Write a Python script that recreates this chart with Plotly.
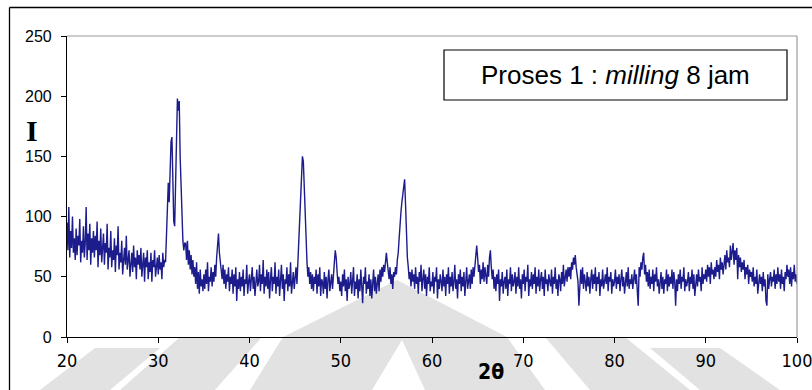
import plotly.graph_objects as go

# XRD pattern: 2-theta from 20 to 100 deg, step 0.1 deg
theta_start = 20.0
theta_step = 0.1

intensity_20_30 = [
    95, 72, 108, 66, 88, 74, 100, 70, 82, 64,
    90, 68, 84, 76, 98, 62, 80, 70, 92, 66,
    78, 108, 64, 86, 72, 94, 60, 82, 70, 88,
    66, 84, 72, 96, 58, 80, 68, 90, 62, 76,
    86, 60, 78, 70, 94, 56, 74, 66, 88, 58,
    72, 64, 82, 54, 76, 68, 92, 56, 70, 62,
    80, 52, 68, 74, 60, 84, 56, 66, 72, 50,
    64, 70, 54, 76, 58, 66, 48, 72, 60, 68,
    56, 74, 50, 62, 70, 46, 66, 58, 72, 48,
    62, 54, 70, 46, 64, 58, 72, 50, 60, 66,
]
intensity_30_40 = [
    52, 68, 56, 62, 48, 70, 58, 64, 62, 82,
    98, 128, 112, 146, 162, 166, 130, 96, 92, 140,
    170, 198, 188, 196, 150, 124, 92, 80, 72, 78,
    78, 64, 80, 60, 72, 56, 68, 52, 64, 50,
    58, 44, 62, 40, 54, 36, 56, 42, 48, 38,
    52, 40, 56, 44, 62, 38, 50, 46, 58, 42,
    54, 46, 60, 50, 66, 74, 86, 70, 62, 56,
    48, 60, 44, 56, 40, 52, 46, 58, 38, 50,
    44, 56, 36, 52, 42, 58, 30, 48, 40, 54,
    38, 50, 42, 56, 34, 48, 44, 60, 36, 46,
]
intensity_40_50 = [
    52, 38, 46, 58, 40, 50, 34, 44, 56, 42,
    46, 60, 38, 52, 44, 64, 36, 50, 42, 56,
    40, 54, 32, 48, 58, 38, 50, 44, 62, 36,
    50, 42, 56, 34, 46, 60, 40, 52, 30, 48,
    44, 58, 38, 52, 42, 62, 36, 48, 54, 40,
    48, 58, 44, 62, 72, 96, 122, 140, 150, 146,
    124, 96, 72, 62, 50, 58, 44, 54, 40, 52,
    38, 50, 44, 56, 36, 52, 42, 58, 34, 48,
    46, 36, 54, 40, 50, 32, 48, 56, 38, 44,
    52, 40, 58, 62, 72, 66, 54, 44, 50, 38,
]
intensity_50_60 = [
    46, 34, 52, 42, 56, 38, 48, 30, 50, 40,
    44, 54, 36, 48, 58, 34, 46, 40, 52, 32,
    48, 38, 56, 42, 28, 50, 44, 58, 36, 46,
    40, 52, 34, 48, 32, 44, 56, 38, 50, 36,
    44, 52, 38, 56, 46, 58, 50, 60, 54, 64,
    70, 62, 56, 48, 58, 44, 52, 40, 54, 50,
    58, 52, 64, 70, 82, 96, 104, 112, 118, 126,
    131, 110, 82, 66, 58, 48, 54, 42, 56, 46,
    52, 40, 58, 44, 50, 36, 54, 46, 60, 38,
    48, 56, 40, 52, 34, 50, 44, 58, 38, 46,
]
intensity_60_70 = [
    42, 54, 36, 50, 46, 58, 32, 48, 40, 52,
    46, 38, 56, 42, 50, 34, 52, 44, 58, 36,
    50, 42, 54, 38, 46, 60, 40, 48, 32, 52,
    44, 56, 38, 50, 42, 54, 34, 48, 58, 40,
    46, 52, 40, 56, 44, 58, 50, 62, 70, 76,
    66, 54, 60, 44, 56, 48, 62, 46, 58, 52,
    44, 60, 50, 66, 72, 58, 48, 56, 40, 50,
    38, 52, 44, 56, 30, 48, 42, 54, 36, 46,
    50, 40, 56, 34, 48, 44, 58, 38, 52, 42,
    46, 54, 36, 50, 42, 58, 40, 48, 32, 52,
]
intensity_70_80 = [
    44, 56, 38, 50, 46, 60, 34, 48, 42, 54,
    40, 52, 44, 58, 36, 50, 42, 56, 38, 48,
    54, 40, 50, 34, 56, 44, 48, 38, 52, 46,
    42, 56, 36, 50, 44, 58, 40, 48, 34, 52,
    48, 38, 54, 44, 60, 42, 50, 56, 46, 58,
    50, 58, 48, 62, 56, 66, 60, 68, 58, 52,
    46, 26, 50, 56, 44, 58, 40, 52, 46, 38,
    54, 42, 50, 36, 48, 56, 40, 52, 44, 58,
    38, 50, 44, 54, 34, 48, 42, 56, 40, 46,
    52, 44, 58, 38, 50, 46, 54, 36, 48, 42,
]
intensity_80_90 = [
    46, 56, 40, 50, 44, 52, 38, 48, 56, 42,
    50, 36, 46, 54, 42, 58, 40, 48, 44, 52,
    40, 48, 56, 44, 52, 38, 26, 58, 50, 62,
    56, 66, 70, 52, 60, 46, 54, 42, 56, 40,
    50, 44, 56, 38, 52, 46, 58, 42, 48, 36,
    46, 54, 40, 50, 36, 48, 44, 56, 38, 52,
    42, 50, 44, 56, 40, 54, 46, 26, 48, 38,
    52, 44, 56, 40, 50, 46, 58, 38, 48, 42,
    46, 54, 38, 50, 44, 56, 40, 52, 34, 48,
    52, 42, 56, 46, 50, 38, 58, 44, 52, 48,
]
intensity_90_100 = [
    56, 46, 60, 50, 58, 44, 62, 52, 56, 48,
    58, 50, 64, 54, 60, 48, 66, 56, 62, 52,
    60, 68, 56, 72, 62, 66, 58, 76, 64, 70,
    78, 60, 72, 64, 74, 48, 68, 58, 66, 54,
    62, 56, 64, 48, 58, 52, 60, 44, 56, 50,
    54, 46, 58, 42, 50, 44, 56, 36, 48, 52,
    44, 50, 38, 54, 42, 48, 30, 26, 52, 40,
    48, 54, 42, 50, 46, 56, 40, 52, 44, 58,
    46, 52, 40, 56, 44, 50, 38, 54, 48, 60,
    50, 56, 44, 58, 42, 54, 48, 60, 46, 52,
    44,
]

intensity = (intensity_20_30 + intensity_30_40 + intensity_40_50 + intensity_50_60
             + intensity_60_70 + intensity_70_80 + intensity_80_90 + intensity_90_100)

x_ticks = [20, 30, 40, 50, 60, 70, 80, 90, 100]
y_ticks = [0, 50, 100, 150, 200, 250]

# plot-area geometry in pixels
W, H = 812, 390
L, R, T, B = 67, 15, 36, 53
PW, PH = W - L - R, H - T - B


def px(x):
    return (x - L) / PW


def py(y):
    return (H - B - y) / PH


fig = go.Figure()
fig.add_trace(go.Scatter(
    x0=theta_start, dx=theta_step, y=intensity,
    mode="lines", line=dict(color="#1c1c8c", width=1.4),
    hoverinfo="skip", showlegend=False,
))

shapes = []
# watermark-like light gray shapes (behind data)
gray = "#e2e2e2"


def poly(points):
    return "M " + " L ".join(f"{px(a):.4f},{py(b):.4f}" for a, b in points) + " Z"


for pts in [
    [(283, 337), (397, 280), (507, 337), (545, 390), (425, 390), (402, 340), (372, 390), (250, 390)],
    [(180, 337), (262, 337), (215, 390), (120, 390)],
    [(95, 348), (160, 348), (110, 390), (40, 390)],
    [(545, 337), (625, 337), (690, 390), (590, 390)],
    [(650, 348), (720, 348), (780, 390), (700, 390)],
]:
    shapes.append(dict(type="path", path=poly(pts), xref="paper", yref="paper",
                       fillcolor=gray, line=dict(width=0), layer="below"))

# outer frame (left and top edges visible)
shapes.append(dict(type="line", xref="paper", yref="paper",
                   x0=px(9.5), x1=px(9.5), y0=py(7.5), y1=py(392),
                   line=dict(color="black", width=1.3)))
shapes.append(dict(type="line", xref="paper", yref="paper",
                   x0=px(9.5), x1=px(815), y0=py(7.5), y1=py(7.5),
                   line=dict(color="black", width=1.3)))
# top and right border of plot area (gray)
shapes.append(dict(type="line", xref="paper", yref="paper", x0=0, x1=1, y0=1, y1=1,
                   line=dict(color="#9a9a9a", width=1.2)))
shapes.append(dict(type="line", xref="paper", yref="paper", x0=1, x1=1, y0=0, y1=1,
                   line=dict(color="#9a9a9a", width=1.2)))
# legend-like text box
shapes.append(dict(type="rect", xref="paper", yref="paper",
                   x0=px(444), x1=px(787), y0=py(100), y1=py(50),
                   line=dict(color="black", width=1.2), fillcolor="white"))

narrow = "Liberation Sans Narrow, DejaVu Sans Condensed, Liberation Sans"

annotations = [
    dict(text="Proses 1 : <i>milling</i> 8 jam", xref="paper", yref="paper",
         x=px(615.5), y=py(75), showarrow=False,
         font=dict(family="Liberation Sans", size=26, color="black"),
         xanchor="center", yanchor="middle"),
    dict(text="<b>I</b>", xref="paper", yref="paper", x=px(32), y=py(130),
         showarrow=False, font=dict(family="Liberation Serif", size=30, color="black"),
         xanchor="center", yanchor="middle"),
    dict(text="<b>2θ</b>", xref="paper", yref="paper", x=px(491), y=py(372),
         showarrow=False, font=dict(family=narrow, size=21, color="black"),
         xanchor="center", yanchor="middle"),
]

fig.update_layout(
    width=W, height=H, autosize=False,
    margin=dict(l=L, r=R, t=T, b=B, pad=0, autoexpand=False),
    paper_bgcolor="white", plot_bgcolor="rgba(0,0,0,0)",
    shapes=shapes, annotations=annotations,
    xaxis=dict(range=[20, 100], tickvals=x_ticks, ticktext=[str(v) for v in x_ticks],
               showgrid=False, zeroline=False, showline=True, linecolor="black",
               linewidth=1.2, ticks="outside", ticklen=5, tickcolor="black",
               tickfont=dict(family=narrow, size=18, color="black"),
               ticklabelstandoff=2, ticklabeloverflow="allow",
               fixedrange=True, automargin=False),
    yaxis=dict(range=[0, 250], tickvals=y_ticks, ticktext=[str(v) for v in y_ticks],
               showgrid=False, zeroline=False, showline=True, linecolor="black",
               linewidth=1.2, ticks="outside", ticklen=5, tickcolor="black",
               tickfont=dict(family="Liberation Sans", size=16, color="black"),
               ticklabelstandoff=6, ticklabeloverflow="allow",
               fixedrange=True, automargin=False),
)

fig.write_html("out.html", include_plotlyjs=True, config={"displayModeBar": False})
